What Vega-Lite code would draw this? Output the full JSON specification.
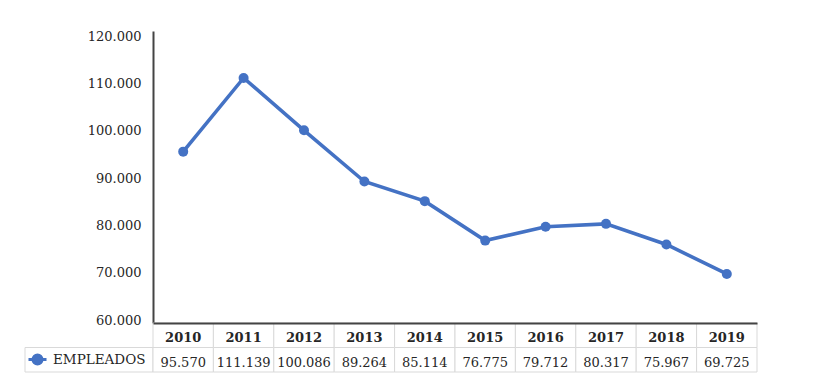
{
  "$schema": "https://vega.github.io/schema/vega-lite/v6.json",
  "padding": {"left": 24, "top": 30, "right": 5, "bottom": 5},
  "background": "white",
  "datasets": {
    "empleados": [
      {"anio": "2010", "serie": "EMPLEADOS", "valor": 95570},
      {"anio": "2011", "serie": "EMPLEADOS", "valor": 111139},
      {"anio": "2012", "serie": "EMPLEADOS", "valor": 100086},
      {"anio": "2013", "serie": "EMPLEADOS", "valor": 89264},
      {"anio": "2014", "serie": "EMPLEADOS", "valor": 85114},
      {"anio": "2015", "serie": "EMPLEADOS", "valor": 76775},
      {"anio": "2016", "serie": "EMPLEADOS", "valor": 79712},
      {"anio": "2017", "serie": "EMPLEADOS", "valor": 80317},
      {"anio": "2018", "serie": "EMPLEADOS", "valor": 75967},
      {"anio": "2019", "serie": "EMPLEADOS", "valor": 69725}
    ],
    "leyenda": [{"serie": "EMPLEADOS"}]
  },
  "columns": 2,
  "spacing": 0,
  "bounds": "flush",
  "align": "each",
  "resolve": {"scale": {"color": "independent", "x": "independent", "y": "independent"}, "legend": {"color": "independent"}},
  "concat": [
    {
      "width": 128,
      "height": 292,
      "data": {"name": "leyenda"},
      "mark": {"type": "text", "text": ""},
      "encoding": {}
    },
    {
      "width": 604,
      "height": 292,
      "data": {"name": "empleados"},
      "encoding": {
        "x": {"field": "anio", "type": "ordinal", "scale": {"type": "point", "padding": 0.5}, "axis": null},
        "y": {
          "field": "valor",
          "type": "quantitative",
          "scale": {"domain": [59370, 121060], "nice": false, "zero": false},
          "axis": {
            "title": null,
            "values": [60000, 70000, 80000, 90000, 100000, 110000, 120000],
            "format": ",d",
            "grid": false,
            "ticks": false,
            "tickSize": 0,
            "labelPadding": 12,
            "labelFont": "DejaVu Serif",
            "labelFontSize": 13,
            "labelColor": "#262626",
            "domainColor": "#444444",
            "domainWidth": 2
          }
        }
      },
      "layer": [
        {"mark": {"type": "line", "color": "#4472C4", "strokeWidth": 3.6}},
        {"mark": {"type": "point", "filled": true, "color": "#4472C4", "opacity": 1, "size": 100}}
      ]
    },
    {
      "width": 128,
      "height": 49,
      "data": {"name": "leyenda"},
      "layer": [
        {
          "mark": {"type": "rect", "fill": "white", "stroke": "#d9d9d9", "strokeWidth": 1},
          "encoding": {
            "y": {"datum": "EMPLEADOS", "type": "nominal", "scale": {"domain": ["header", "EMPLEADOS"], "paddingInner": 0, "paddingOuter": 0}, "axis": null}
          }
        },
        {
          "mark": {"type": "point", "filled": true, "opacity": 0},
          "encoding": {
            "color": {
              "field": "serie",
              "type": "nominal",
              "scale": {"range": ["#4472C4"]},
              "legend": {
                "orient": "bottom-left",
                "title": null,
                "offset": 0,
                "padding": 2,
                "labelFont": "DejaVu Serif",
                "labelFontSize": 13.5,
                "labelColor": "#262626",
                "labelOffset": 5,
                "symbolSize": 324,
                "symbolType": "M-1,0H1M-0.5,0A0.5,0.5,0,1,1,0.5,0A0.5,0.5,0,1,1,-0.5,0Z",
                "encode": {
                  "symbols": {
                    "update": {
                      "shape": {"value": "M-1,0H1M-0.5,0A0.5,0.5,0,1,1,0.5,0A0.5,0.5,0,1,1,-0.5,0Z"},
                      "size": {"value": 324},
                      "fill": {"value": "#4472C4"},
                      "stroke": {"value": "#4472C4"},
                      "strokeWidth": {"value": 3},
                      "opacity": {"value": 1}
                    }
                  }
                }
              }
            }
          }
        }
      ]
    },
    {
      "width": 604,
      "height": 49,
      "data": {"name": "empleados"},
      "encoding": {
        "x": {
          "field": "anio",
          "type": "ordinal",
          "scale": {"type": "band", "paddingInner": 0, "paddingOuter": 0},
          "axis": {"orient": "top", "title": null, "labels": false, "ticks": false, "domain": true, "domainColor": "#444444", "domainWidth": 2, "zindex": 1}
        }
      },
      "layer": [
        {
          "mark": {"type": "rect", "fill": "white", "stroke": "#d9d9d9", "strokeWidth": 1},
          "encoding": {"y": {"datum": "header", "type": "nominal", "scale": {"domain": ["header", "EMPLEADOS"], "paddingInner": 0, "paddingOuter": 0}, "axis": null}}
        },
        {
          "mark": {"type": "rect", "fill": "white", "stroke": "#d9d9d9", "strokeWidth": 1},
          "encoding": {"y": {"datum": "EMPLEADOS", "type": "nominal"}}
        },
        {
          "mark": {"type": "text", "font": "DejaVu Serif", "fontSize": 13, "fontWeight": "bold", "color": "#262626", "baseline": "middle", "dy": 3},
          "encoding": {"y": {"datum": "header", "type": "nominal"}, "text": {"field": "anio", "type": "nominal"}}
        },
        {
          "mark": {"type": "text", "font": "DejaVu Serif", "fontSize": 13, "color": "#262626", "baseline": "middle", "dy": 3},
          "encoding": {"y": {"datum": "EMPLEADOS", "type": "nominal"}, "text": {"field": "valor", "type": "quantitative", "format": ",d"}}
        }
      ]
    }
  ],
  "config": {
    "font": "DejaVu Serif",
    "view": {"stroke": null},
    "locale": {"number": {"decimal": ",", "thousands": ".", "grouping": [3], "currency": ["", " €"]}}
  }
}
